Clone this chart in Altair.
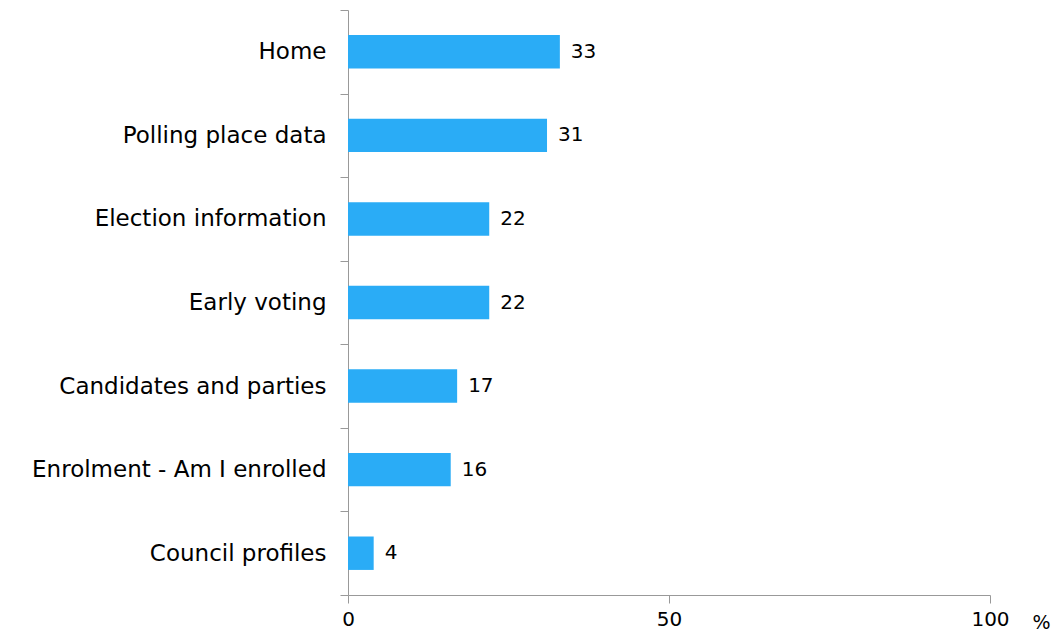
import altair as alt
import pandas as pd

categories = ["Home", "Polling place data", "Election information\u2002", "Early voting",
              "Candidates and parties", "Enrolment - Am I enrolled", "Council profiles"]
values = [33, 31, 22, 22, 17, 16, 4]

df = pd.DataFrame({"cat": categories, "val": values})

FONT = "DejaVu Sans"
W, H = 642, 585

y = alt.Y("cat:N", sort=categories,
          scale=alt.Scale(paddingInner=0, paddingOuter=0),
          axis=alt.Axis(title=None, tickBand="extent", tickSize=8, labelPadding=14,
                        labelFontSize=23, labelFont=FONT, labelColor="#000000",
                        domainColor="#999999", tickColor="#999999", labelLimit=0))
x = alt.X("val:Q", scale=alt.Scale(domain=[0, 100]),
          axis=alt.Axis(values=[0, 50, 100], title="%", titleAngle=0, titleFont=FONT,
                        titleFontSize=19, titleFontWeight="normal", titleColor="#000000",
                        titleX=W + 42, titleY=33, titleAnchor="start", titleBaseline="alphabetic",
                        labelFontSize=20, labelFont=FONT, labelColor="#000000", labelPadding=6,
                        domainColor="#999999", tickColor="#999999", tickSize=8, grid=False,
                        labelFlush=False))

bars = alt.Chart(df).mark_bar(color="#2AACF6", height=alt.RelativeBandSize(band=0.4)).encode(x=x, y=y)
labels = alt.Chart(df).mark_text(align="left", baseline="middle", dx=11, fontSize=20,
                                 font=FONT, color="#000000").encode(
    x="val:Q", y=alt.Y("cat:N", sort=categories), text="val:Q")

chart = (bars + labels).properties(
    width=W, height=H,
    padding={"left": 340, "top": 2, "right": 65, "bottom": 36},
    autosize=alt.AutoSizeParams(type="none"),
    background="white",
).configure_view(stroke=None)

chart.save("out.html", embed_options={"renderer": "svg", "actions": False})
